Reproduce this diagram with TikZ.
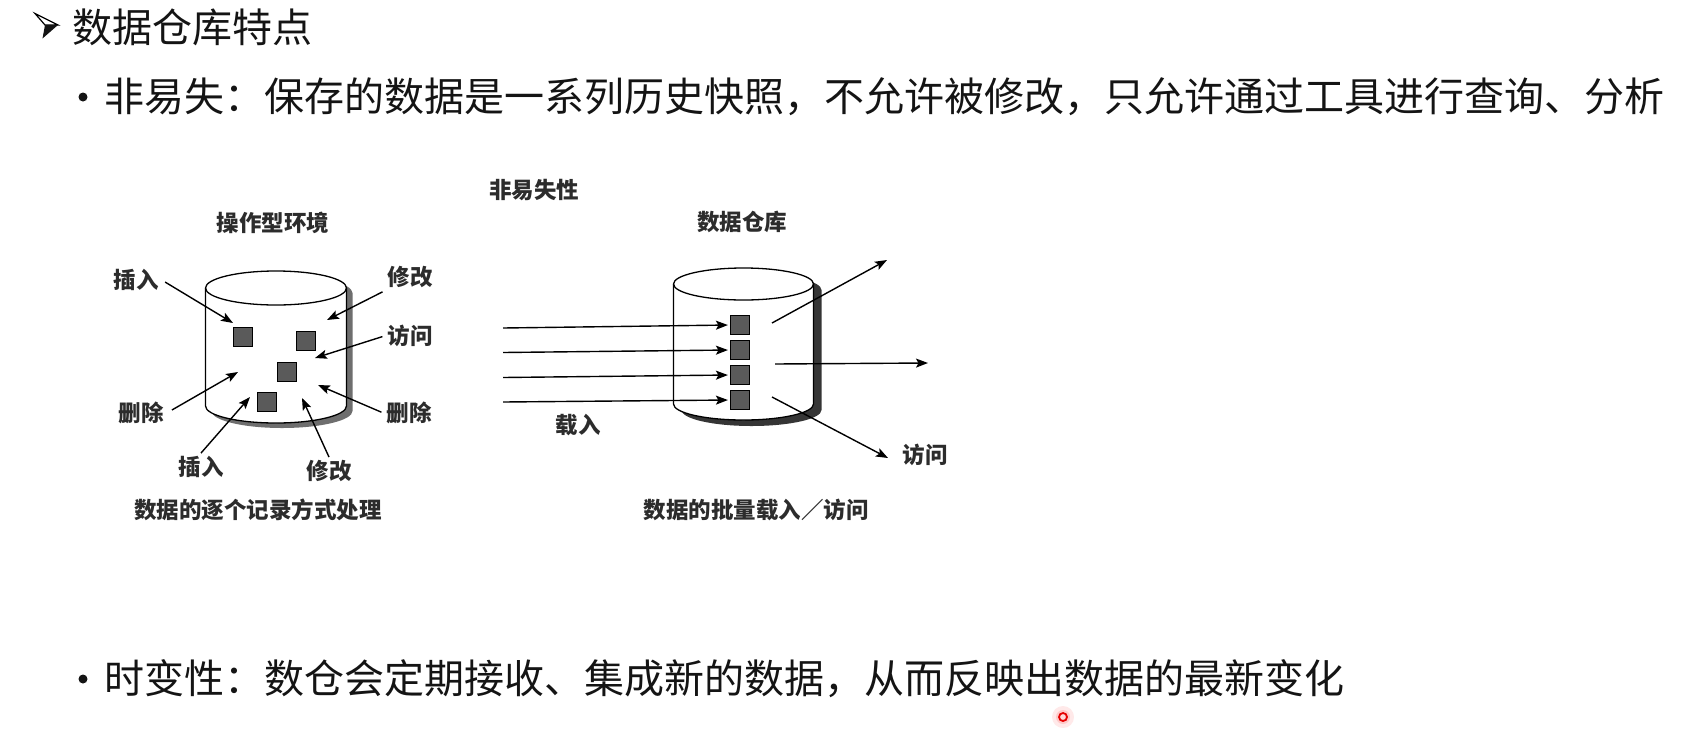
\documentclass[tikz,border=0pt]{standalone}
\usepackage{fontspec}
\usetikzlibrary{arrows.meta}
\newfontfamily\cjk{Noto Sans CJK SC}
\definecolor{inkmain}{HTML}{141414}
\definecolor{inklabel}{HTML}{2C2C2C}
\definecolor{recgray}{HTML}{5A5A5A}
\definecolor{shadeA}{HTML}{6E6E6E}
\definecolor{shadeB}{HTML}{353535}

% database drum: centre x, top y, bottom y, x radius, y radius, shadow colour, shadow offset
\newcommand{\drawdrum}[7]{%
  \begin{scope}[shift={#7}]
    \fill[#6] (#1-#4,#2) -- (#1-#4,#3)
      arc[start angle=180,end angle=360,x radius=#4pt,y radius=#5pt]
      -- (#1+#4,#2)
      arc[start angle=0,end angle=180,x radius=#4pt,y radius=#5pt] -- cycle;
  \end{scope}
  \fill[white] (#1-#4,#2) -- (#1-#4,#3)
    arc[start angle=180,end angle=360,x radius=#4pt,y radius=#5pt]
    -- (#1+#4,#2)
    arc[start angle=0,end angle=180,x radius=#4pt,y radius=#5pt] -- cycle;
  \draw[drumline] (#1-#4,#2) -- (#1-#4,#3)
    arc[start angle=180,end angle=360,x radius=#4pt,y radius=#5pt]
    -- (#1+#4,#2);
  \draw[drumline] (#1,#2) ellipse[x radius=#4pt,y radius=#5pt];
}

\begin{document}
\begin{tikzpicture}[x=1pt,y=-1pt,
  bodytext/.style={font=\cjk\fontsize{40}{48}\selectfont, text=inkmain, inner sep=0pt, anchor=west},
  lbl/.style={font=\cjk\bfseries\fontsize{22.5}{26}\selectfont, text=inklabel, inner sep=3pt},
  dot/.style={circle, fill=inkmain, minimum size=9pt, inner sep=0pt},
  arr/.style={-{Stealth[length=12pt,width=9pt,inset=2.5pt]}, line width=1.4pt},
  drumline/.style={line width=1.3pt, draw=black},
  rec/.style={draw=black, line width=1.2pt, fill=recgray, minimum size=19pt, inner sep=0pt}]

\fill[white] (0,0) rectangle (1704,753);
\useasboundingbox (0,0) rectangle (1704,753);

% heading with arrow mark
\draw[line width=1.2pt, line join=miter, fill=white] (35,13.5) -- (58,25) -- (45,25) -- cycle;
\fill[inkmain] (58,25) -- (45,25) -- (42.5,38.5) -- cycle;
\node[bodytext] (title) at (72,27) {数据仓库特点};

% first bullet
\node[dot] (b1) at (83,97) {};
\node[bodytext] (line1) at (104,97) {非易失：保存的数据是一系列历史快照，不允许被修改，只允许通过工具进行查询、分析};

% second bullet
\node[dot] (b2) at (83,679) {};
\node[bodytext] (line2) at (104,679) {时变性：数仓会定期接收、集成新的数据，从而反映出数据的最新变化};

% pointer marker
\fill[red!70, opacity=0.12] (1063,717) circle[radius=11pt];
\fill[red!70, opacity=0.2] (1063,717) circle[radius=7pt];
\node[circle, draw=red!90!black, line width=1.8pt, minimum size=8pt, inner sep=0pt, fill=red!15] (pointer) at (1063,717) {};

% ---------- operational environment ----------
\drawdrum{276}{288}{406}{70.5}{17}{shadeA}{(6,5)}
\node[lbl] (envtitle) at (273,223) {操作型环境};
\node[rec] (r1) at (243,337) {};
\node[rec] (r2) at (306,341) {};
\node[rec] (r3) at (287,372) {};
\node[rec] (r4) at (267,402) {};

\node[lbl] (insA) at (136,280) {插入};
\node[lbl] (modA) at (410,277) {修改};
\node[lbl] (accA) at (410,336) {访问};
\node[lbl] (delA) at (141,413) {删除};
\node[lbl] (delB) at (409,413) {删除};
\node[lbl] (insB) at (201,467) {插入};
\node[lbl] (modB) at (329,471) {修改};
\node[lbl] (capA) at (258,510) {数据的逐个记录方式处理};

\coordinate (e1) at (233,323);
\coordinate (e2) at (327,320);
\coordinate (e3) at (315,358);
\coordinate (e4) at (238,372);
\coordinate (e5) at (318,385);
\coordinate (e6) at (250,397);
\coordinate (e7) at (302,398);

\draw[arr, shorten <=4pt] (insA.east) -- (e1);
\draw[arr, shorten <=2pt] (modA.south west) -- (e2);
\draw[arr, shorten <=2pt] (accA.west) -- (e3);
\draw[arr, shorten <=6pt] (delA.east) -- (e4);
\draw[arr, shorten <=2pt] (delB.west) -- (e5);
\draw[arr] (insB.north) -- (e6);
\draw[arr] (modB.north) -- (e7);

% ---------- data warehouse ----------
\node[lbl] (nvtitle) at (534,190) {非易失性};
\node[lbl] (dwtitle) at (742,222) {数据仓库};
\drawdrum{743.5}{284}{404}{70}{16}{shadeB}{(8,6)}
\node[rec] (s1) at (740,325) {};
\node[rec] (s2) at (740,350) {};
\node[rec] (s3) at (740,375) {};
\node[rec] (s4) at (740,400) {};

\coordinate (i1) at (503,328);
\coordinate (i2) at (503,352.5);
\coordinate (i3) at (503,377.5);
\coordinate (i4) at (503,402);
\draw[arr, shorten >=2pt] (i1) -- (s1.west);
\draw[arr, shorten >=2pt] (i2) -- (s2.west);
\draw[arr, shorten >=2pt] (i3) -- (s3.west);
\draw[arr, shorten >=2pt] (i4) -- (s4.west);
\node[lbl] (load) at (578,425) {载入};

\coordinate (u1) at (772,323);
\coordinate (u2) at (775,364);
\coordinate (u3) at (772,397);
\coordinate (v1) at (887,260);
\coordinate (v2) at (928,363);
\coordinate (v3) at (888,458);
\draw[arr] (u1) -- (v1);
\draw[arr] (u2) -- (v2);
\draw[arr] (u3) -- (v3);
\node[lbl] (accR) at (925,455) {访问};
\node[lbl] (capB) at (756,510) {数据的批量载入／访问};

\end{tikzpicture}
\end{document}
